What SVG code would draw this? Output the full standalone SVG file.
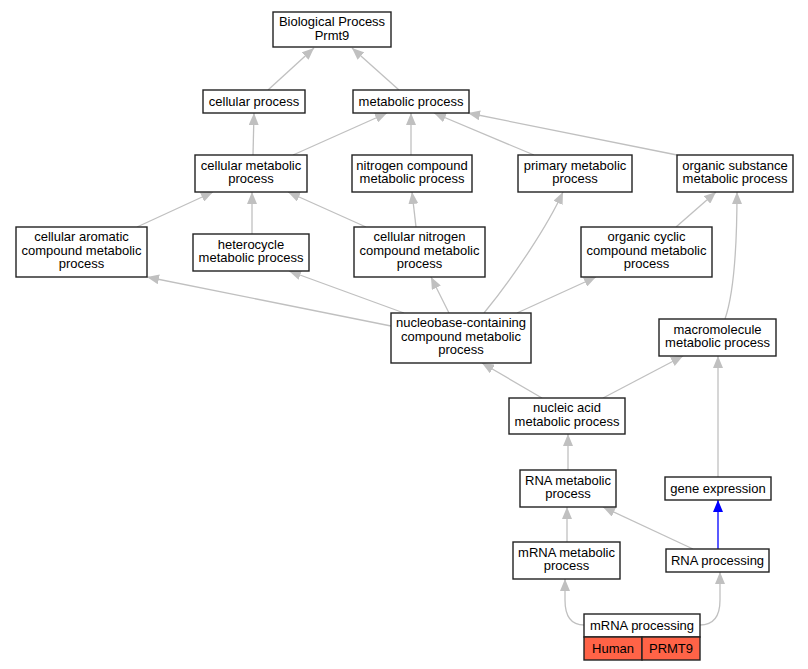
<svg xmlns="http://www.w3.org/2000/svg" width="808" height="669" viewBox="0 0 808 669">
<style>
.n rect{fill:#fff;stroke:#222;stroke-width:1.4}
.n text,.t{font-family:"Liberation Sans",Arial,sans-serif;font-size:13px;fill:#000;text-anchor:middle}
.e path{fill:none;stroke:#c0c0c0;stroke-width:1.3}
.e path.b{stroke:#0000ff}
rect.h{fill:#ff6347}
</style>
<defs>
<marker id="ag" markerUnits="userSpaceOnUse" markerWidth="13" markerHeight="10" refX="12" refY="5" orient="auto"><path d="M0,0 L12,5 L0,10 z" fill="#c0c0c0"/></marker>
<marker id="ab" markerUnits="userSpaceOnUse" markerWidth="13" markerHeight="10" refX="12" refY="5" orient="auto"><path d="M0,0 L12,5 L0,10 z" fill="#0000ff"/></marker>
</defs>
<rect width="808" height="669" fill="#fff"/>
<g id="edges" class="e" marker-end="url(#ag)">
<path d="M268,90 L314,48" marker-end="url(#ag)"/>
<path d="M399,90 L352,48" marker-end="url(#ag)"/>
<path d="M253,155 L254,113" marker-end="url(#ag)"/>
<path d="M293,155 L387,113" marker-end="url(#ag)"/>
<path d="M411,155 L411,113" marker-end="url(#ag)"/>
<path d="M534,155 L434,113" marker-end="url(#ag)"/>
<path d="M677,155 L468,113" marker-end="url(#ag)"/>
<path d="M137,227 L213,192" marker-end="url(#ag)"/>
<path d="M252,234 L252,192" marker-end="url(#ag)"/>
<path d="M366,227 L288,192" marker-end="url(#ag)"/>
<path d="M416,227 L412,192" marker-end="url(#ag)"/>
<path d="M391,326 L147,277" marker-end="url(#ag)"/>
<path d="M404,313 L289,271" marker-end="url(#ag)"/>
<path d="M449,313 L431,277" marker-end="url(#ag)"/>
<path d="M484,313 C515,275 548,225 563,192" marker-end="url(#ag)"/>
<path d="M517,313 L596,277" marker-end="url(#ag)"/>
<path d="M676,227 L716,192" marker-end="url(#ag)"/>
<path d="M725,319 C735,290 737,240 737,192" marker-end="url(#ag)"/>
<path d="M542,398 L482,363" marker-end="url(#ag)"/>
<path d="M603,398 L683,356" marker-end="url(#ag)"/>
<path d="M568,470 L568,434" marker-end="url(#ag)"/>
<path d="M718,477 L718,356" marker-end="url(#ag)"/>
<path d="M567,542 L567,507" marker-end="url(#ag)"/>
<path d="M693,549 L603,507" marker-end="url(#ag)"/>
<path class="b" d="M718,549 L718,500" marker-end="url(#ab)"/>
<path d="M584,625 C570,625 565,615 565,600 L565,579" marker-end="url(#ag)"/>
<path d="M700,625 C715,625 720,615 720,600 L720,572" marker-end="url(#ag)"/>
</g>
<g id="bp" class="n"><rect x="273" y="12" width="118" height="35"/><text x="332" y="26">Biological Process</text><text x="332" y="39.5">Prmt9</text></g>
<g id="cellular_process" class="n"><rect x="203" y="90" width="102" height="23"/><text x="254" y="105.5">cellular process</text></g>
<g id="metabolic_process" class="n"><rect x="353" y="90" width="116" height="23"/><text x="411" y="105.5">metabolic process</text></g>
<g id="cellular_metabolic" class="n"><rect x="195" y="155" width="112" height="37"/><text x="251" y="169.5">cellular metabolic</text><text x="251" y="183">process</text></g>
<g id="nitrogen_compound" class="n"><rect x="352" y="155" width="120" height="37"/><text x="412" y="169.5">nitrogen compound</text><text x="412" y="183">metabolic process</text></g>
<g id="primary_metabolic" class="n"><rect x="518" y="155" width="114" height="37"/><text x="575" y="169.5">primary metabolic</text><text x="575" y="183">process</text></g>
<g id="organic_substance" class="n"><rect x="677" y="155" width="116" height="37"/><text x="735" y="169.5">organic substance</text><text x="735" y="183">metabolic process</text></g>
<g id="cellular_aromatic" class="n"><rect x="16" y="227" width="131" height="50"/><text x="81.5" y="241">cellular aromatic</text><text x="81.5" y="254.5">compound metabolic</text><text x="81.5" y="268">process</text></g>
<g id="heterocycle" class="n"><rect x="193" y="234" width="116" height="37"/><text x="251" y="248.5">heterocycle</text><text x="251" y="262">metabolic process</text></g>
<g id="cellular_nitrogen" class="n"><rect x="354" y="227" width="131" height="50"/><text x="419.5" y="241">cellular nitrogen</text><text x="419.5" y="254.5">compound metabolic</text><text x="419.5" y="268">process</text></g>
<g id="organic_cyclic" class="n"><rect x="581" y="227" width="131" height="50"/><text x="646.5" y="241">organic cyclic</text><text x="646.5" y="254.5">compound metabolic</text><text x="646.5" y="268">process</text></g>
<g id="nucleobase" class="n"><rect x="391" y="313" width="140" height="50"/><text x="461" y="327">nucleobase-containing</text><text x="461" y="340.5">compound metabolic</text><text x="461" y="354">process</text></g>
<g id="macromolecule" class="n"><rect x="659" y="319" width="117" height="37"/><text x="717.5" y="333.5">macromolecule</text><text x="717.5" y="347">metabolic process</text></g>
<g id="nucleic_acid" class="n"><rect x="509" y="398" width="116" height="36"/><text x="567" y="412">nucleic acid</text><text x="567" y="425.5">metabolic process</text></g>
<g id="rna_metabolic" class="n"><rect x="520" y="470" width="96" height="37"/><text x="568" y="484.5">RNA metabolic</text><text x="568" y="498">process</text></g>
<g id="gene_expression" class="n"><rect x="665" y="477" width="106" height="23"/><text x="718" y="492.5">gene expression</text></g>
<g id="mrna_metabolic" class="n"><rect x="513" y="542" width="107" height="37"/><text x="566.5" y="556.5">mRNA metabolic</text><text x="566.5" y="570">process</text></g>
<g id="rna_processing" class="n"><rect x="666" y="549" width="103" height="23"/><text x="717.5" y="564.5">RNA processing</text></g>
<g id="mrna_processing" class="n"><rect x="584" y="614" width="116" height="23"/><text x="642" y="629.5">mRNA processing</text><rect class="h" x="584" y="637" width="58" height="23"/><rect class="h" x="642" y="637" width="58" height="23"/><text x="613" y="652.5">Human</text><text x="671" y="652.5">PRMT9</text></g>
</svg>
